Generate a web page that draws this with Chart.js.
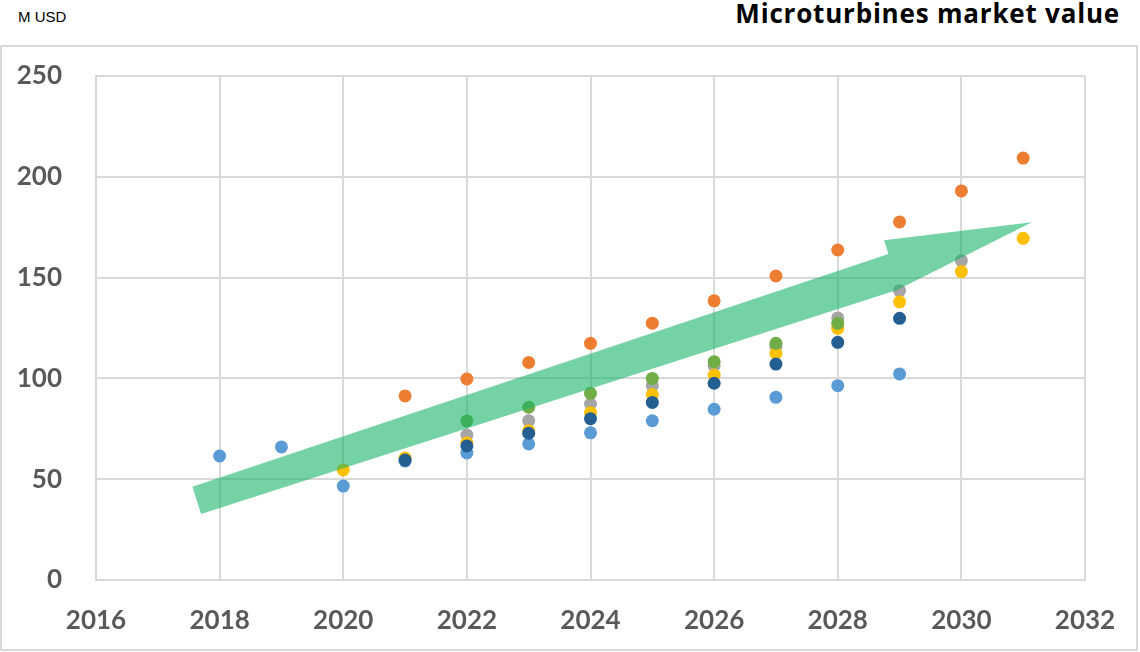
<!DOCTYPE html>
<html>
<head>
<meta charset="utf-8">
<script src="https://cdn.jsdelivr.net/npm/chart.js@4.4.1/dist/chart.umd.min.js"></script>
<style>
  html, body { margin: 0; padding: 0; background: #fff; }
  body { width: 1140px; height: 652px; position: relative; overflow: hidden; font-family: "Liberation Sans", Arial, sans-serif; }
  #unit { position: absolute; left: 18px; top: 8px; font-size: 15px; color: #000; }
  #title { position: absolute; right: 20px; top: -5px; font-family: "Open Sans", sans-serif; font-weight: 700; font-size: 26px; letter-spacing: 0.8px; color: #000; }
  #box { position: absolute; left: 0; top: 45px; width: 1134px; height: 602px; border: 2px solid #d9d9d9; }
  #box canvas { display: block; }
</style>
</head>
<body>
<div id="unit">M USD</div>
<div id="title">Microturbines market value</div>
<div id="box"><canvas id="chart" width="1134" height="602"></canvas></div>
<script>
const years = [2018, 2019, 2020, 2021, 2022, 2023, 2024, 2025, 2026, 2027, 2028, 2029, 2030, 2031];

const lightBlue = [61.5, 66, 46.6, 59, 63, 67.5, 73, 79, 84.7, 90.6, 96.4, 102.2, null, null];
const orange    = [null, null, null, 91.3, 99.7, 107.9, 117.4, 127.4, 138.5, 150.8, 163.7, 177.6, 193, 209.3];
const gray      = [null, null, null, null, 71.9, 79, 87.3, 96.4, 106.3, 116, 130, 143.5, 158.4, null];
const yellow    = [null, null, 54.6, 60.5, 68, 74, 83, 92, 101.7, 112.4, 124.8, 138, 153, 169.5];
const darkBlue  = [null, null, null, 59.5, 66.5, 72.8, 80, 88.1, 97.6, 107.1, 117.9, 129.8, null, null];
const green     = [null, null, null, null, 78.9, 85.7, 92.6, 100, 108.3, 117.4, 127.3, null, null, null];

// trend arrow outline, in axis units (year, M USD)
const arrowX = [2017.56, 2028.82, 2028.75, 2031.14, 2028.96, 2017.70];
const arrowY = [46.3, 161.7, 168.5, 177.4, 143.8, 32.7];

const toPoints = vals => years.map((y, i) => ({ x: y, y: vals[i] })).filter(p => p.y !== null);

const series = [
  { data: lightBlue, color: '#5B9BD5', order: 6 },
  { data: orange, color: '#ED7D31', order: 5 },
  { data: gray, color: '#A5A5A5', order: 4 },
  { data: yellow, color: '#FFC000', order: 3 },
  { data: darkBlue, color: '#255E91', order: 2 },
  { data: green, color: '#70AD47', order: 1 }
];

const arrowPlugin = {
  id: 'arrow',
  afterDatasetsDraw(chart) {
    const { ctx, scales: { x, y } } = chart;
    ctx.save();
    ctx.beginPath();
    arrowX.forEach((v, i) => {
      const px = x.getPixelForValue(v), py = y.getPixelForValue(arrowY[i]);
      if (i === 0) ctx.moveTo(px, py); else ctx.lineTo(px, py);
    });
    ctx.closePath();
    ctx.fillStyle = 'rgba(25, 180, 105, 0.6)';
    ctx.fill();
    ctx.restore();
  }
};

const tickFont = { family: 'Lato', size: 26, weight: 'bold' };

new Chart(document.getElementById('chart'), {
  type: 'scatter',
  data: {
    datasets: series.map(s => ({
      data: toPoints(s.data),
      backgroundColor: s.color,
      borderWidth: 0,
      pointRadius: 6.5,
      pointHoverRadius: 6.5,
      order: s.order
    }))
  },
  options: {
    responsive: false,
    animation: false,
    layout: { padding: { left: 0, right: 51, top: 29, bottom: 0 } },
    plugins: { legend: { display: false }, tooltip: { enabled: false } },
    scales: {
      x: {
        type: 'linear',
        min: 2016, max: 2032,
        afterFit: s => { s.height = 69; s.paddingLeft = 0; s.paddingRight = 0; },
        grid: { color: '#d9d9d9', lineWidth: 2, drawTicks: false },
        border: { color: '#d9d9d9', width: 2 },
        ticks: { stepSize: 2, padding: 25, color: '#595959', font: tickFont, callback: v => String(v) }
      },
      y: {
        min: 0, max: 250,
        afterFit: s => { s.width = 94; s.paddingTop = 0; s.paddingBottom = 0; },
        grid: { color: '#d9d9d9', lineWidth: 2, drawTicks: false },
        border: { color: '#d9d9d9', width: 2 },
        ticks: { stepSize: 50, padding: 34, color: '#595959', font: tickFont }
      }
    }
  },
  plugins: [arrowPlugin]
});
</script>
</body>
</html>
